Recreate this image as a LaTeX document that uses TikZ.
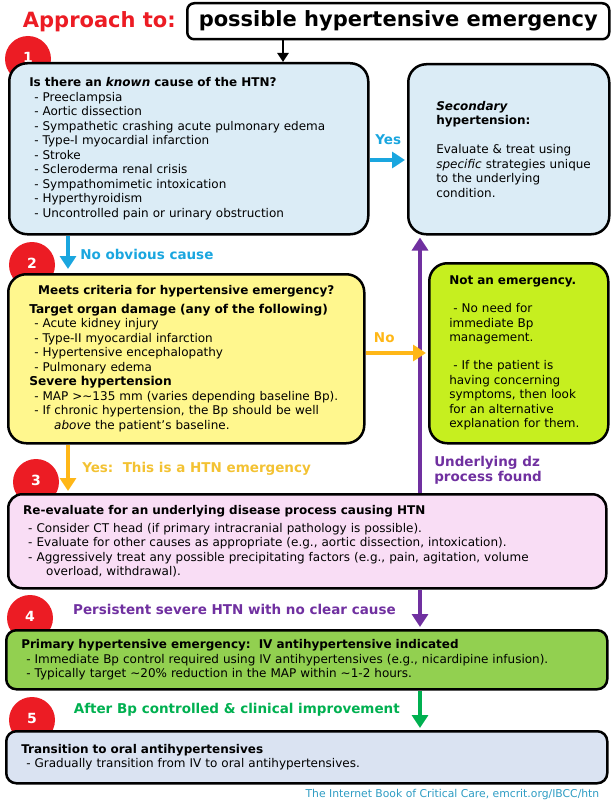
\documentclass[tikz,border=0pt]{standalone}
\usepackage{fontspec}
\setmainfont{DejaVu Sans}
\usepackage{xcolor}
\definecolor{HtnRed}  {HTML}{EC1C24}
\definecolor{KnownBg} {HTML}{DBECF6}
\definecolor{CritBg}  {HTML}{FFF78E}
\definecolor{CalmBg}  {HTML}{C6EF1F}
\definecolor{ReevalBg}{HTML}{F9DDF5}
\definecolor{PrimBg}  {HTML}{92D050}
\definecolor{OralBg}  {HTML}{DAE3F2}
\definecolor{YesBlue} {HTML}{1AA6DF}
\definecolor{NoOrange}{HTML}{FFB717}
\definecolor{HtnGold} {HTML}{F3C233}
\definecolor{DzPurple}{HTML}{7030A0}
\definecolor{GoGreen} {HTML}{00B050}
\definecolor{FootTeal}{HTML}{2E9CC3}
\usepackage{tikz}
\usetikzlibrary{arrows.meta,positioning}
\newcommand{\htnBody}{\fontsize{12}{14.5}\selectfont}
\newcommand{\htnLabel}{\fontsize{13.5}{15}\selectfont\bfseries}
\newcommand{\htnHead}{\fontsize{21}{21}\selectfont\bfseries}
\newcommand{\htnItem}{\hspace*{5pt}- }
\tikzset{
  cardnode/.style={rectangle,draw=black,line width=2.5pt,anchor=north west,
    inner xsep=0pt,inner ysep=0pt,align=left,font=\htnBody},
  padleft/.style={execute at begin node={\leftskip=#1\relax}},
  badgenode/.style={circle,fill=HtnRed,minimum size=46pt,inner sep=0pt,
    text=white,font=\fontsize{14}{14}\selectfont\bfseries},
  flowedge/.style={line width=4.5pt,-{Triangle[width=16pt,length=13pt]}},
  flowlabel/.style={font=\htnLabel,inner sep=0pt},
}

\begin{document}
\begin{tikzpicture}[x=1pt,y=-1pt]
  \useasboundingbox (0,0) rectangle (612,800);
  % step badges, behind the boxes
  \node[badgenode](s1)at(28,59){\raisebox{3pt}{1}};
  \node[badgenode](s2)at(32,265){\raisebox{3pt}{2}};
  \node[badgenode](s3)at(36,482){\raisebox{3pt}{3}};
  \node[badgenode](s4)at(30,618){\raisebox{3pt}{4}};
  \node[badgenode](s5)at(32,720){\raisebox{3pt}{5}};
  % heading
  \node[draw=black,line width=2.5pt,rounded corners=7pt,anchor=north west,
    minimum width=422pt,minimum height=36pt,inner sep=0pt,
    font=\htnHead](title)at(186,2)
    {possible hypertensive emergency};
  \node[left=10pt of title,inner sep=0pt,text=HtnRed,
    font=\htnHead](approach){Approach to:};
  % boxes
  \node[cardnode,fill=KnownBg,rounded corners=18pt,text width=359pt,
    minimum height=171pt,padleft=20pt](known)at(8,62)
    {\textbf{Is there an \textit{known} cause of the HTN?}\\
     \htnItem Preeclampsia\\
     \htnItem Aortic dissection\\
     \htnItem Sympathetic crashing acute pulmonary edema\\
     \htnItem Type-I myocardial infarction\\
     \htnItem Stroke\\
     \htnItem Scleroderma renal crisis\\
     \htnItem Sympathomimetic intoxication\\
     \htnItem Hyperthyroidism\\
     \htnItem Uncontrolled pain or urinary obstruction};
  \node[cardnode,fill=KnownBg,rounded corners=18pt,text width=201pt,
    minimum height=170pt,padleft=28pt](second)at(407,63)
    {\textbf{\textit{Secondary}}\\
     \textbf{hypertension:}\\[14.5pt]
     Evaluate \& treat using\\
     \textit{specific} strategies unique\\
     to the underlying\\
     condition.};
  \node[cardnode,fill=CritBg,rounded corners=18pt,text width=356pt,
    minimum height=169pt,padleft=21pt](criteria)at(7,273)
    {\makebox[\dimexpr\linewidth-42pt\relax]{\bfseries Meets criteria for hypertensive emergency?}\\[4pt]
     {\fontsize{12.2}{14.5}\selectfont\bfseries Target organ damage (any of the following)}\\
     \htnItem Acute kidney injury\\
     \htnItem Type-II myocardial infarction\\
     \htnItem Hypertensive encephalopathy\\
     \htnItem Pulmonary edema\\
     {\fontsize{12.2}{14.5}\selectfont\bfseries Severe hypertension}\\
     \htnItem MAP >\textasciitilde135 mm (varies depending baseline Bp).\\
     \htnItem If chronic hypertension, the Bp should be well\\
     \hspace*{25pt}\textit{above} the patient’s baseline.};
  \node[cardnode,fill=CalmBg,rounded corners=18pt,text width=179pt,
    minimum height=180pt,padleft=20pt](calm)at(428,262)
    {\textbf{Not an emergency.}\\[13.5pt]
     \hspace*{4pt}- No need for\\
     immediate Bp\\
     management.\\[13.5pt]
     \hspace*{4pt}- If the patient is\\
     having concerning\\
     symptoms, then look\\
     for an alternative\\
     explanation for them.};
  \node[cardnode,fill=ReevalBg,rounded corners=14pt,text width=598pt,
    minimum height=94pt,padleft=15pt](reeval)at(7,493)
    {\textbf{Re-evaluate for an underlying disease process causing HTN}\\[3pt]
     \htnItem Consider CT head (if primary intracranial pathology is possible).\\
     \htnItem Evaluate for other causes as appropriate (e.g., aortic dissection, intoxication).\\
     \htnItem Aggressively treat any possible precipitating factors (e.g., pain, agitation, volume\\
     \hspace*{23pt}overload, withdrawal).};
  \node[cardnode,fill=PrimBg,rounded corners=10pt,text width=601pt,
    minimum height=59pt,padleft=15pt](primary)at(5,629)
    {\textbf{Primary hypertensive emergency:\ \ IV antihypertensive indicated}\\
     \htnItem Immediate Bp control required using IV antihypertensives (e.g., nicardipine infusion).\\
     \htnItem Typically target \textasciitilde20\% reduction in the MAP within \textasciitilde1-2 hours.};
  \node[cardnode,fill=OralBg,rounded corners=10pt,text width=601pt,
    minimum height=52pt,padleft=15pt](oral)at(5,730)
    {\textbf{Transition to oral antihypertensives}\\
     \htnItem Gradually transition from IV to oral antihypertensives.};
  \node[below left=5pt and 9pt of oral.south east,anchor=north east,inner sep=0pt,
    text=FootTeal,font=\fontsize{10.8}{11}\selectfont](credit)
    {The Internet Book of Critical Care, emcrit.org/IBCC/htn};
  % connectors
  \draw[line width=2.5pt,-{Triangle[width=11pt,length=9pt]}]
    (title.south -| 283,0)--(known.north -| 283,0);
  \draw[flowedge,YesBlue,shorten >=2pt](known.east |- 0,160)--(second.west |- 0,160)
    node[midway,above=13pt,flowlabel]{Yes};
  \draw[flowedge,YesBlue,shorten >=4pt](known.south -| 68,0)--(criteria.north -| 68,0)
    node[midway,anchor=west,xshift=10pt,flowlabel]{No obvious cause};
  \draw[flowedge,NoOrange,shorten >=2pt](criteria.south -| 68,0)--(reeval.north -| 68,0)
    node[midway,anchor=west,xshift=12pt,flowlabel,text=HtnGold]{Yes:\ \ This is a HTN emergency};
  \draw[flowedge,DzPurple,shorten >=2pt](reeval.north -| 420,0)--(second.south -| 420,0)
    node[pos=0.09,anchor=west,xshift=12pt,flowlabel,align=left]{Underlying dz\\process found};
  \draw[flowedge,DzPurple,shorten >=2pt](reeval.south -| 420,0)--(primary.north -| 420,0)
    node[midway,anchor=east,xshift=-22pt,flowlabel]{Persistent severe HTN with no clear cause};
  \draw[flowedge,GoGreen,shorten >=2pt](primary.south -| 420,0)--(oral.north -| 420,0)
    node[midway,anchor=east,xshift=-18pt,flowlabel]{After Bp controlled \& clinical improvement};
  \draw[flowedge,NoOrange,shorten >=2pt](criteria.east |- 0,353)--(calm.west |- 0,353)
    node[pos=0.3,above=8.5pt,flowlabel]{No};
\end{tikzpicture}
\end{document}
